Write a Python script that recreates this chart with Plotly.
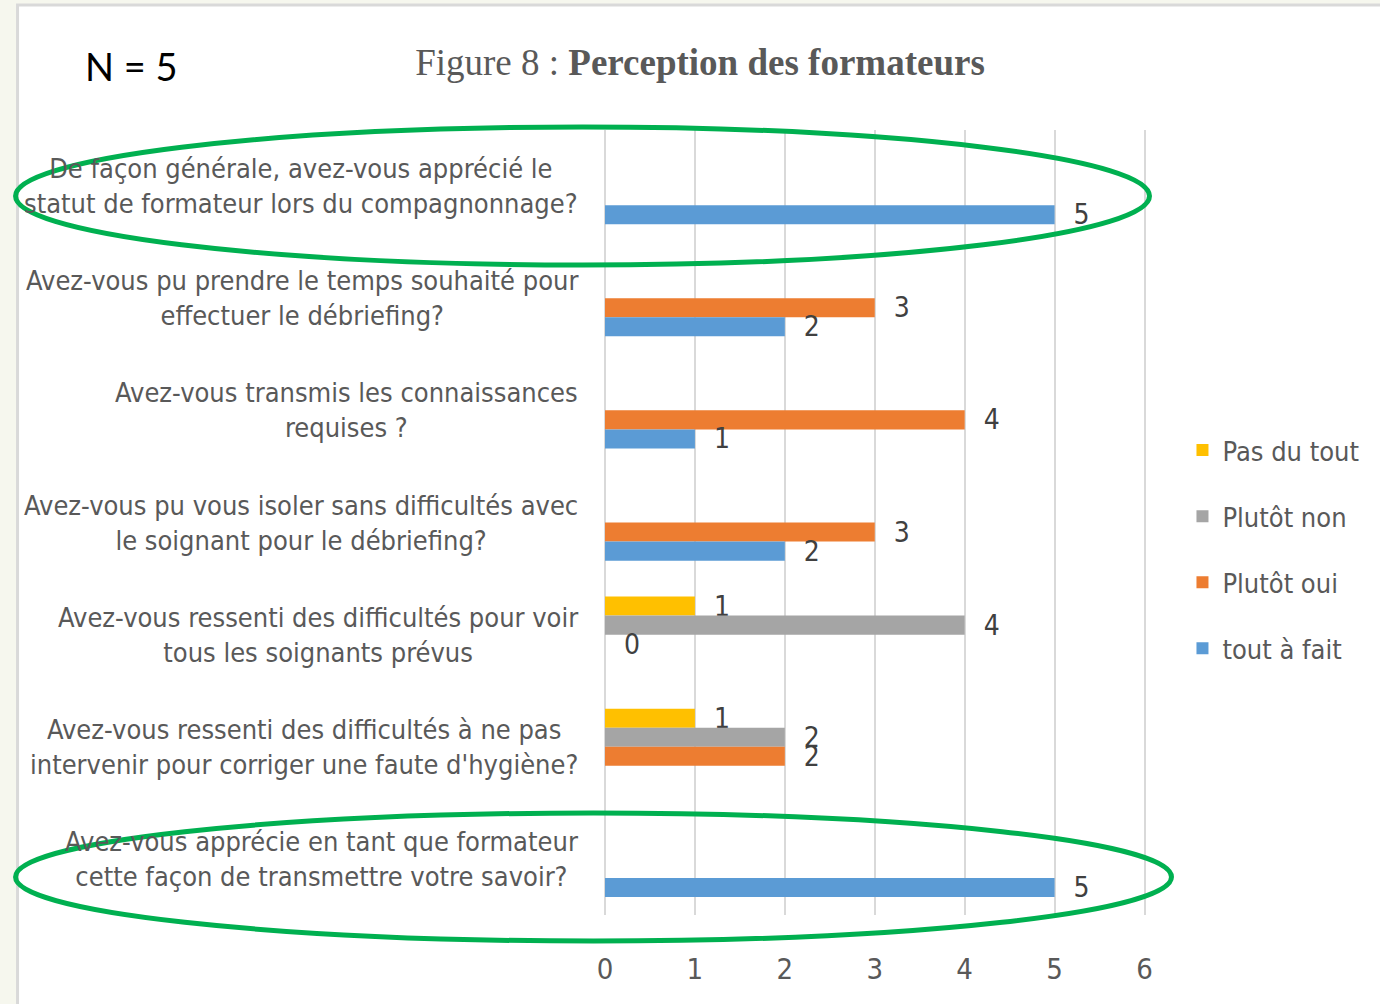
import plotly.graph_objects as go

W, H = 1380, 1004
X_MAX = 6.05
ML, MT, MB = 605, 130, 89
MR = W - ML - 90 * X_MAX

categories = [
    "De façon générale, avez-vous apprécié le<br>statut de formateur lors du compagnonnage?",
    "Avez-vous pu prendre le temps souhaité pour<br>effectuer le débriefing?",
    "Avez-vous transmis les connaissances<br>requises ?",
    "Avez-vous pu vous isoler sans difficultés avec<br>le soignant pour le débriefing?",
    "Avez-vous ressenti des difficultés pour voir<br>tous les soignants prévus",
    "Avez-vous ressenti des difficultés à ne pas<br>intervenir pour corriger une faute d'hygiène?",
    "Avez-vous apprécie en tant que formateur<br>cette façon de transmettre votre savoir?",
]
cat_ids = [f"q{i+1}" for i in range(len(categories))]

series_names = ["Pas du tout", "Plutôt non", "Plutôt oui", "tout à fait"]
pas_du_tout = [None, None, None, None, 1, 1, None]
plutot_non = [None, None, None, None, 4, 2, None]
plutot_oui = [None, 3, 4, 3, 0, 2, None]
tout_a_fait = [5, 2, 1, 2, None, None, 5]
series_values = [pas_du_tout, plutot_non, plutot_oui, tout_a_fait]
series_colors = ["#ffc000", "#a5a5a5", "#ed7d31", "#5b9bd5"]

x_ticks = [0, 1, 2, 3, 4, 5, 6]

LABEL_FONT = "DejaVu Sans Condensed, Liberation Sans Narrow, Roboto, sans-serif"
TEXT_GRAY = "#595959"


def px_x(p):
    return (p - ML) / (W - ML - MR)


def px_y(p):
    return 1 - (p - MT) / (H - MT - MB)


fig = go.Figure()
for name, vals, col in zip(series_names, series_values, series_colors):
    fig.add_trace(go.Bar(
        name=name, orientation="h", y=cat_ids, x=vals,
        marker=dict(color=col, line=dict(width=0)),
        text=["  " + str(v) if v is not None else "" for v in vals],
        textposition="outside", constraintext="none", cliponaxis=False,
        textfont=dict(family=LABEL_FONT, size=28, color="#404040"),
        legendgroup=name,
    ))

annotations = []
for cid, lab in zip(cat_ids, categories):
    annotations.append(dict(
        x=px_x(580), xref="paper", xanchor="right",
        y=cid, yref="y", yanchor="middle",
        text=lab, align="center", showarrow=False,
        font=dict(family=LABEL_FONT, size=27, color=TEXT_GRAY),
    ))
annotations.append(dict(
    x=px_x(83), xref="paper", xanchor="left",
    y=px_y(66), yref="paper", yanchor="middle",
    text="N = 5", showarrow=False,
    font=dict(family="Lato, Open Sans, sans-serif", size=38, color="#000000"),
))

shapes = [
    dict(type="rect", xref="paper", yref="paper", layer="below",
         x0=px_x(17), x1=px_x(1385), y0=px_y(5), y1=px_y(1010),
         fillcolor="#ffffff", line=dict(color="#d9d9d9", width=3)),
    dict(type="circle", xref="paper", yref="paper",
         x0=px_x(15), x1=px_x(1150), y0=px_y(127), y1=px_y(265),
         line=dict(color="#00b050", width=5)),
    dict(type="circle", xref="paper", yref="paper",
         x0=px_x(15), x1=px_x(1172), y0=px_y(813), y1=px_y(941),
         line=dict(color="#00b050", width=5)),
]

fig.update_layout(
    width=W, height=H,
    margin=dict(l=ML, r=MR, t=MT, b=MB),
    paper_bgcolor="#f6f7ee", plot_bgcolor="rgba(0,0,0,0)",
    barmode="group", bargap=0.32, bargroupgap=0,
    title=dict(
        text="Figure 8 : <b>Perception des formateurs</b>",
        xref="container", x=700 / W, xanchor="center",
        yref="container", y=1 - 62 / H, yanchor="middle",
        font=dict(family="Liberation Serif, DejaVu Serif, serif", size=37, color=TEXT_GRAY),
    ),
    xaxis=dict(
        range=[0, X_MAX], tickvals=x_ticks, ticktext=[str(t) for t in x_ticks],
        showgrid=True, gridcolor="#d9d9d9", gridwidth=2,
        zeroline=True, zerolinecolor="#d9d9d9", zerolinewidth=2,
        showline=False, ticks="outside", ticklen=28, tickcolor="rgba(0,0,0,0)",
        tickfont=dict(family=LABEL_FONT, size=29, color=TEXT_GRAY),
        fixedrange=True,
    ),
    yaxis=dict(
        categoryorder="array", categoryarray=cat_ids,
        range=[6.5, -0.5], showticklabels=False, showgrid=False,
        zeroline=False, showline=False, fixedrange=True,
    ),
    legend=dict(
        x=px_x(1183), xanchor="left", y=px_y(426), yanchor="top",
        font=dict(family=LABEL_FONT, size=27, color=TEXT_GRAY),
        traceorder="grouped", tracegroupgap=28,
        bgcolor="rgba(0,0,0,0)",
    ),
    annotations=annotations,
    shapes=shapes,
    showlegend=True,
)

fig.write_html(
    "out.html",
    config={"displayModeBar": False},
    post_script="document.body.style.margin='0';document.body.style.overflow='hidden';",
)
